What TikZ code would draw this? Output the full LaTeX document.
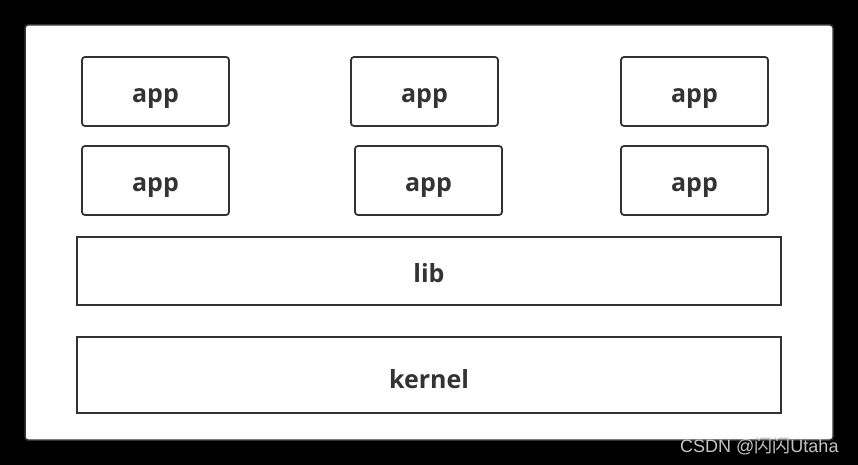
\documentclass[tikz,border=0pt]{standalone}
\usepackage{fontspec}
\setmainfont{Open Sans}
\newfontfamily\wmfont{Liberation Sans}
\newfontfamily\cjk{Noto Sans CJK SC}
\definecolor{edge}{HTML}{333333}
\definecolor{wm}{HTML}{C4C4C4}
\begin{document}
\begin{tikzpicture}[x=1pt,y=-1pt,
  labelfont/.style={font=\fontsize{25}{30}\selectfont\bfseries,text=edge},
  appbox/.style={draw=edge,line width=1.8pt,rounded corners=3pt,fill=white,minimum width=147pt,minimum height=69pt,inner sep=0pt,labelfont,text height=22.4pt,text depth=0pt},
  layerbox/.style={draw=edge,line width=1.8pt,fill=white,minimum width=704pt,inner sep=0pt,labelfont}]
\useasboundingbox (0,0) rectangle (858,465);
\fill[black] (0,0) rectangle (858,465);
\draw[edge,fill=white,line width=1.5pt,rounded corners=3pt] (25,25) rectangle (833,440);
\node[appbox] (a1) at (155.5,91.5) {app};
\node[appbox] (a2) at (424.5,91.5) {app};
\node[appbox] (a3) at (694.5,91.5) {app};
\node[appbox] (a4) at (155.5,180.5) {app};
\node[appbox] (a5) at (428.5,180.5) {app};
\node[appbox] (a6) at (694.5,180.5) {app};
\node[layerbox,minimum height=68pt,text height=23.4pt,text depth=0pt] (lib) at (429,271) {lib};
\node[layerbox,minimum height=76pt,text height=26.6pt,text depth=0pt] (kernel) at (429,375) {kernel};
\node[text=wm,anchor=base west,inner sep=0pt,font=\fontsize{18}{20}\selectfont] (wmark) at (680,452.7) {\wmfont CSDN @{\cjk 闪闪}Utaha};
\end{tikzpicture}
\end{document}
